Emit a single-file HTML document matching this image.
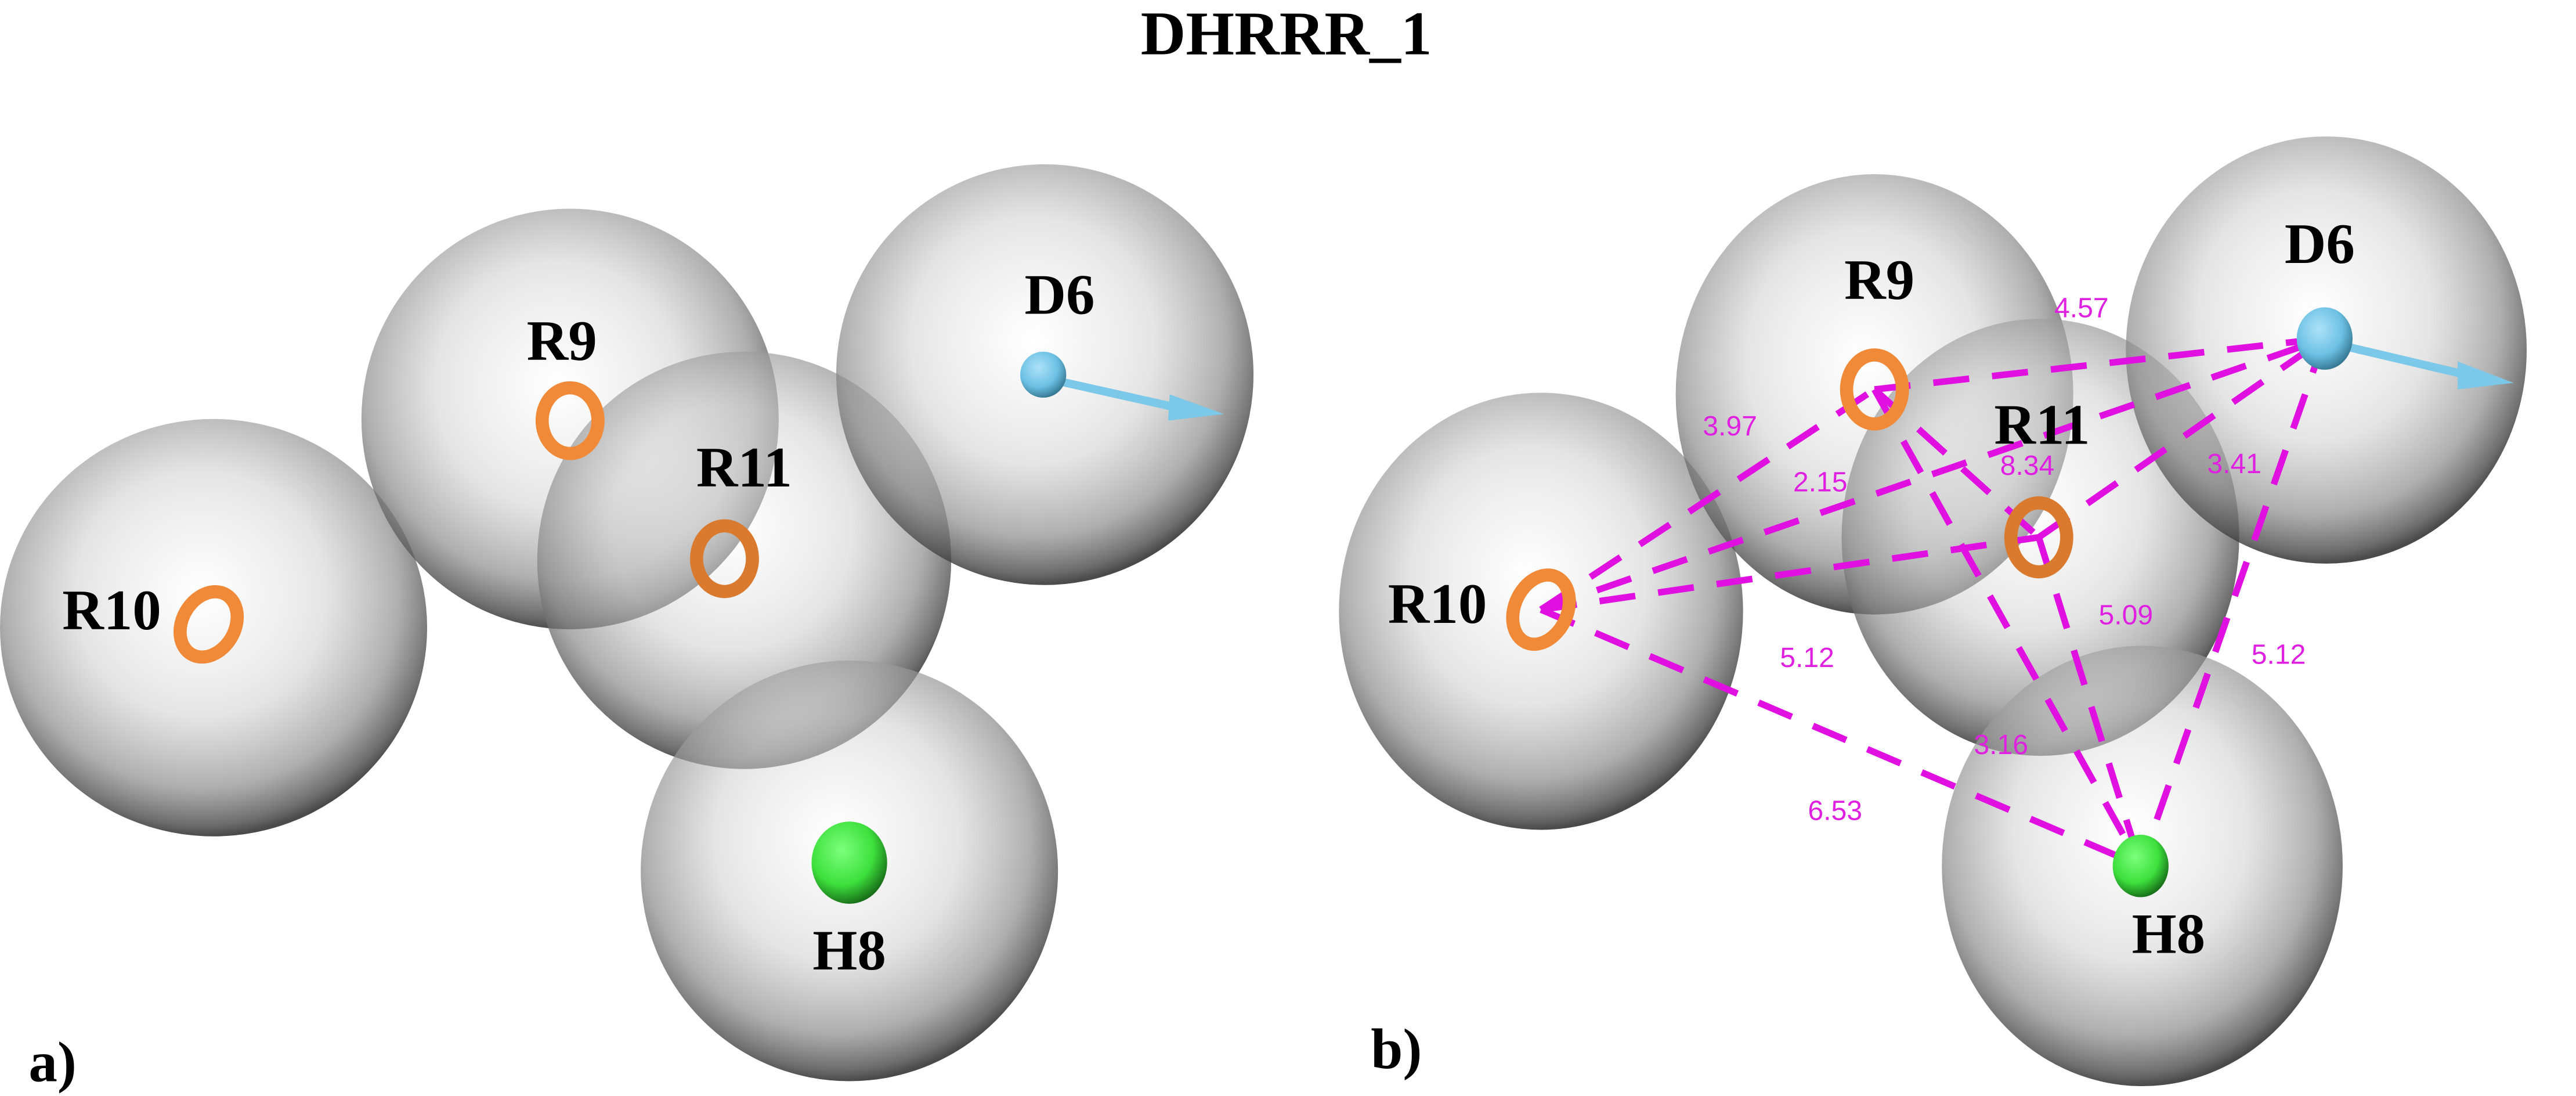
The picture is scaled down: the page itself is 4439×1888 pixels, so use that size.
<!DOCTYPE html>
<html><head><meta charset="utf-8"><style>
html,body{margin:0;padding:0;background:#fff;width:4439px;height:1888px;overflow:hidden}
svg{display:block}
.lb{font-family:"Liberation Serif",serif;font-weight:bold;font-size:35px;fill:#000;text-anchor:middle}
.d{font-family:"Liberation Sans",sans-serif;font-size:17px;fill:#e020e0;text-anchor:middle}
.dl{stroke:#e010e0;stroke-width:4;stroke-dasharray:22 14;fill:none}
</style></head><body>
<svg width="4439" height="1888" viewBox="0 0 1568 667" preserveAspectRatio="none" xmlns="http://www.w3.org/2000/svg">
<defs>
<radialGradient id="sg" cx="0.47" cy="0.42" r="0.58">
<stop offset="0" stop-color="#ffffff" stop-opacity="0.5"/>
<stop offset="0.5" stop-color="#d4d4d4" stop-opacity="0.6"/>
<stop offset="0.8" stop-color="#8c8c8c" stop-opacity="0.7"/>
<stop offset="0.95" stop-color="#4a4a4a" stop-opacity="0.8"/>
<stop offset="1" stop-color="#2a2a2a" stop-opacity="0.85"/>
</radialGradient>
<radialGradient id="bg" cx="0.4" cy="0.35" r="0.7"><stop offset="0" stop-color="#aee2f8"/><stop offset="0.6" stop-color="#6cc0e4"/><stop offset="1" stop-color="#2f6f88"/></radialGradient>
<radialGradient id="gg" cx="0.4" cy="0.35" r="0.7"><stop offset="0" stop-color="#7dff7d"/><stop offset="0.6" stop-color="#3de03d"/><stop offset="1" stop-color="#136013"/></radialGradient>
</defs>
<rect width="1568" height="667" fill="#fff"/>
<text x="783" y="33" class="lb" style="font-size:38px">DHRRR_1</text>

<!-- panel a -->
<ellipse cx="130" cy="382" rx="130" ry="127" fill="url(#sg)"/>
<ellipse cx="347" cy="255" rx="127" ry="128" fill="url(#sg)"/>
<ellipse cx="453" cy="341" rx="126" ry="127" fill="url(#sg)"/>
<ellipse cx="636" cy="228" rx="127" ry="128" fill="url(#sg)"/>
<ellipse cx="517" cy="530" rx="127" ry="128" fill="url(#sg)"/>
<ellipse cx="127" cy="380" rx="16" ry="21" transform="rotate(30 127 380)" fill="none" stroke="#f08a38" stroke-width="8"/>
<ellipse cx="347" cy="256" rx="17" ry="20" fill="none" stroke="#f08a38" stroke-width="8"/>
<ellipse cx="441" cy="340" rx="17" ry="20" fill="none" stroke="#d97a2e" stroke-width="8"/>
<line x1="640" y1="231" x2="725" y2="250" stroke="#7cc8e8" stroke-width="5"/>
<polygon points="712,240 745,252 711,256" fill="#7cc8e8"/>
<circle cx="635" cy="228" r="14" fill="url(#bg)"/>
<ellipse cx="517" cy="525" rx="23" ry="25" fill="url(#gg)"/>
<text x="68" y="383" class="lb">R10</text>
<text x="342" y="219" class="lb">R9</text>
<text x="453" y="296" class="lb">R11</text>
<text x="645" y="191" class="lb">D6</text>
<text x="517" y="590" class="lb">H8</text>
<text x="32" y="658" class="lb">a)</text>

<!-- panel b -->
<ellipse cx="938" cy="372" rx="123" ry="133" fill="url(#sg)"/>
<ellipse cx="1141" cy="240" rx="121" ry="134" fill="url(#sg)"/>
<ellipse cx="1242" cy="327" rx="121" ry="133" fill="url(#sg)"/>
<ellipse cx="1416" cy="213" rx="122" ry="130" fill="url(#sg)"/>
<ellipse cx="1304" cy="527" rx="122" ry="134" fill="url(#sg)"/>
<g class="dl">
<line x1="1141" y1="237" x2="1415" y2="206"/>
<line x1="938" y1="371" x2="1141" y2="237"/>
<line x1="938" y1="371" x2="1415" y2="206"/>
<line x1="938" y1="371" x2="1241" y2="327"/>
<line x1="938" y1="371" x2="1303" y2="527"/>
<line x1="1141" y1="237" x2="1241" y2="327"/>
<line x1="1141" y1="237" x2="1303" y2="527"/>
<line x1="1241" y1="327" x2="1415" y2="206"/>
<line x1="1241" y1="327" x2="1303" y2="527"/>
<line x1="1415" y1="206" x2="1303" y2="527"/>
</g>
<ellipse cx="938" cy="371" rx="16" ry="22" transform="rotate(25 938 371)" fill="none" stroke="#f08a38" stroke-width="8"/>
<ellipse cx="1141" cy="237" rx="17" ry="21" fill="none" stroke="#f08a38" stroke-width="8"/>
<ellipse cx="1241" cy="327" rx="17" ry="21" fill="none" stroke="#d97a2e" stroke-width="8"/>
<line x1="1420" y1="209" x2="1505" y2="229" stroke="#7cc8e8" stroke-width="5"/>
<polygon points="1496,220 1530,233 1496,237" fill="#7cc8e8"/>
<ellipse cx="1415" cy="206" rx="17" ry="19" fill="url(#bg)"/>
<ellipse cx="1303" cy="527" rx="17" ry="19" fill="url(#gg)"/>
<text x="1267" y="193" class="d">4.57</text>
<text x="1053" y="265" class="d">3.97</text>
<text x="1108" y="299" class="d">2.15</text>
<text x="1234" y="289" class="d">8.34</text>
<text x="1360" y="288" class="d">3.41</text>
<text x="1294" y="380" class="d">5.09</text>
<text x="1100" y="406" class="d">5.12</text>
<text x="1387" y="404" class="d">5.12</text>
<text x="1218" y="459" class="d">3.16</text>
<text x="1117" y="499" class="d">6.53</text>
<text x="875" y="379" class="lb">R10</text>
<text x="1144" y="182" class="lb">R9</text>
<text x="1243" y="270" class="lb">R11</text>
<text x="1412" y="160" class="lb">D6</text>
<text x="1320" y="580" class="lb">H8</text>
<text x="850" y="650" class="lb">b)</text>
</svg>
</body></html>
